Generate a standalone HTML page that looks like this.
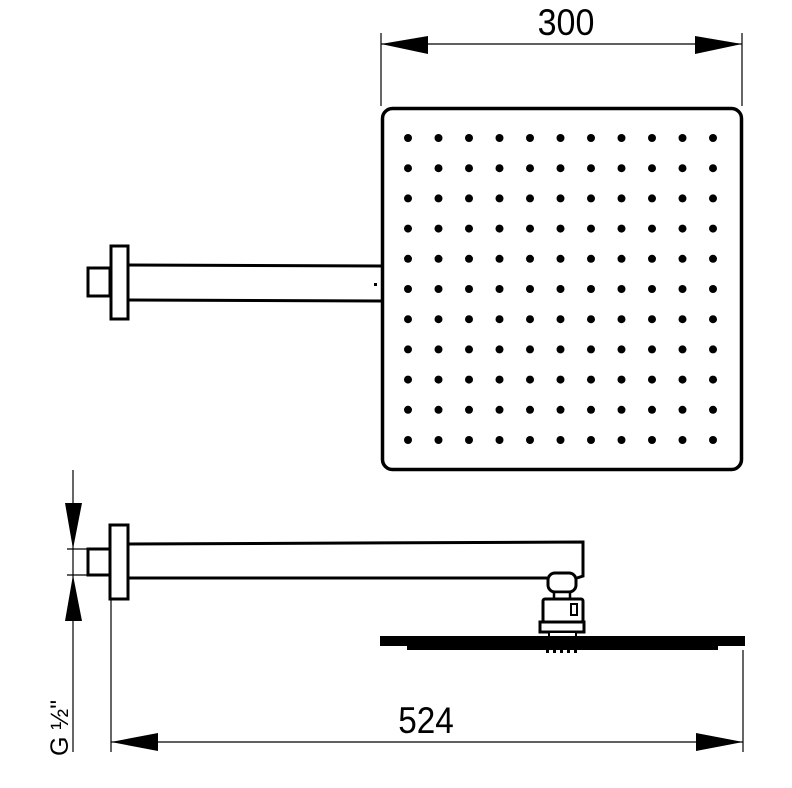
<!DOCTYPE html>
<html><head><style>
html,body{margin:0;padding:0;background:#fff;}
svg{display:block}
text{font-family:"Liberation Sans",sans-serif;fill:#000}
</style></head><body>
<svg width="792" height="788" viewBox="0 0 792 788" xmlns="http://www.w3.org/2000/svg">
<g stroke="#000" stroke-width="1.2">
<line x1="381" y1="33" x2="381" y2="106"/>
<line x1="742" y1="33" x2="742" y2="106"/>
<line x1="381" y1="44" x2="742" y2="44"/>
</g>
<polygon points="381,44 428,36 428,54" fill="#000"/>
<polygon points="742,44 695,36 695,54" fill="#000"/>
<text x="566" y="35" font-size="37" text-anchor="middle" transform="translate(566 0) scale(0.92 1) translate(-566 0)">300</text>
<rect x="382.5" y="108.5" width="359" height="361" rx="10" fill="none" stroke="#000" stroke-width="3.5"/>
<g fill="#000" id="dots">
</g>
<rect x="88" y="268" width="22" height="28" fill="none" stroke="#000" stroke-width="3"/>
<rect x="111" y="246" width="17" height="73" fill="#fff" stroke="#000" stroke-width="3"/>
<line x1="128" y1="265" x2="381" y2="266" stroke="#000" stroke-width="3"/>
<line x1="128" y1="300" x2="381" y2="301" stroke="#000" stroke-width="3"/>
<rect x="374" y="283" width="3" height="3" fill="#000"/>
<rect x="88" y="549" width="22" height="26" fill="none" stroke="#000" stroke-width="3"/>
<rect x="110" y="525" width="18" height="74" fill="#fff" stroke="#000" stroke-width="3"/>
<path d="M128 544 L583 542 L583 576 L577 578 M128 578 L547 578" fill="none" stroke="#000" stroke-width="3"/>
<rect x="548" y="573" width="28" height="19" rx="7" fill="#fff" stroke="#000" stroke-width="3"/>
<rect x="554" y="592" width="16" height="7" fill="#fff" stroke="#000" stroke-width="2.5"/>
<rect x="543" y="599" width="40" height="23" rx="2" fill="#fff" stroke="#000" stroke-width="3"/>
<rect x="571" y="604" width="6" height="11" fill="#fff" stroke="#000" stroke-width="2"/>
<rect x="540" y="622" width="44" height="10" fill="#fff" stroke="#000" stroke-width="3"/>
<rect x="549" y="632" width="27" height="5" fill="#fff" stroke="#000" stroke-width="2"/>
<rect x="380" y="636" width="365" height="10" fill="#000"/>
<rect x="407" y="644" width="311" height="6" fill="#000"/>
<g fill="#000"><rect x="546" y="648" width="3" height="5"/><rect x="553" y="648" width="3" height="5"/><rect x="560" y="648" width="3" height="5"/><rect x="567" y="648" width="3" height="5"/><rect x="574" y="648" width="3" height="5"/></g>
<g stroke="#000" stroke-width="1.2">
<line x1="73" y1="470" x2="73" y2="752"/>
<line x1="67" y1="549" x2="88" y2="549"/>
<line x1="67" y1="575" x2="88" y2="575"/>
<line x1="111" y1="600" x2="111" y2="752"/>
<line x1="743" y1="650" x2="743" y2="752"/>
<line x1="111" y1="742" x2="743" y2="742"/>
</g>
<polygon points="73,549 65,503 82,503" fill="#000"/>
<polygon points="73,575 65,621 82,621" fill="#000"/>
<polygon points="111,742 158,733 158,751" fill="#000"/>
<polygon points="743,742 696,733 696,751" fill="#000"/>
<text x="426" y="733" font-size="37" text-anchor="middle" transform="translate(426 0) scale(0.9 1) translate(-426 0)">524</text>
<text transform="translate(68 756) rotate(-90)" font-size="25">G ½"</text>
</svg>
<script>
var g=document.getElementById('dots');var s='';
for(var r=0;r<11;r++)for(var c=0;c<11;c++){s+='<circle cx="'+(408+c*30.5)+'" cy="'+(138+r*30.2)+'" r="4"/>';}
g.innerHTML=s;
</script>
</body></html>
